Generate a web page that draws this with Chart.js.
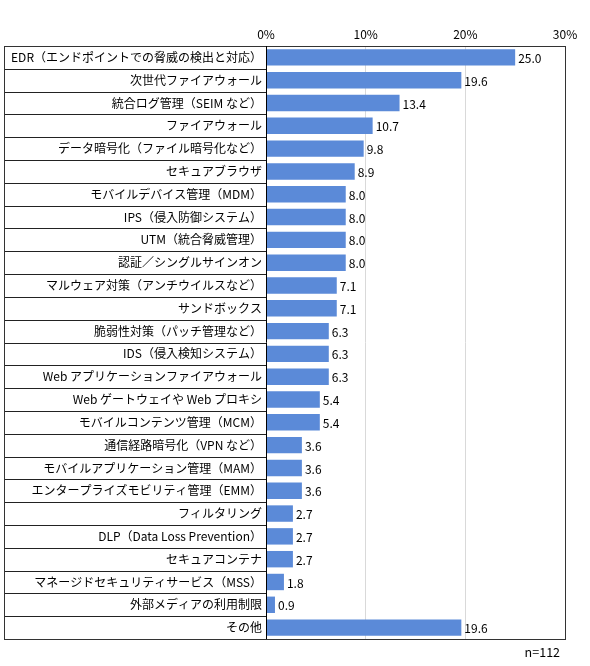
<!DOCTYPE html>
<html>
<head>
<meta charset="utf-8">
<script src="https://cdn.jsdelivr.net/npm/chart.js@4"></script>
<style>
  html, body { margin: 0; padding: 0; background: #fff; }
  #wrap { width: 590px; height: 666px; }
</style>
</head>
<body>
<div id="wrap"><canvas id="canvas" width="590" height="666"></canvas></div>
<script>
// 項目名
const categories = [
  "EDR（エンドポイントでの脅威の検出と対応）",
  "次世代ファイアウォール",
  "統合ログ管理（SEIM など）",
  "ファイアウォール",
  "データ暗号化（ファイル暗号化など）",
  "セキュアブラウザ",
  "モバイルデバイス管理（MDM）",
  "IPS（侵入防御システム）",
  "UTM（統合脅威管理）",
  "認証／シングルサインオン",
  "マルウェア対策（アンチウイルスなど）",
  "サンドボックス",
  "脆弱性対策（パッチ管理など）",
  "IDS（侵入検知システム）",
  "Web アプリケーションファイアウォール",
  "Web ゲートウェイや Web プロキシ",
  "モバイルコンテンツ管理（MCM）",
  "通信経路暗号化（VPN など）",
  "モバイルアプリケーション管理（MAM）",
  "エンタープライズモビリティ管理（EMM）",
  "フィルタリング",
  "DLP（Data Loss Prevention）",
  "セキュアコンテナ",
  "マネージドセキュリティサービス（MSS）",
  "外部メディアの利用制限",
  "その他"
];
// 割合 (%)
const values = [25.0, 19.6, 13.4, 10.7, 9.8, 8.9, 8.0, 8.0, 8.0, 8.0, 7.1, 7.1, 6.3, 6.3, 6.3, 5.4, 5.4, 3.6, 3.6, 3.6, 2.7, 2.7, 2.7, 1.8, 0.9, 19.6];
const xTicks = [0, 10, 20, 30];
const note = "n=112";

const FONT = '"Noto Sans CJK JP", "Noto Sans", sans-serif';

// 表の枠線と数値ラベル
const tablePlugin = {
  id: 'tablePlugin',
  afterDatasetsDraw(chart) {
    const ctx = chart.ctx;
    const meta = chart.getDatasetMeta(0);
    ctx.save();
    ctx.font = '12px ' + FONT;
    ctx.fillStyle = '#000';
    ctx.textBaseline = 'middle';
    ctx.textAlign = 'left';
    meta.data.forEach((bar, i) => {
      ctx.fillText(values[i].toFixed(1), bar.x + 3, bar.y + 1);
    });
    ctx.restore();
  },
  afterDraw(chart) {
    const ctx = chart.ctx;
    const a = chart.chartArea;
    const left = 4;
    const rowH = (a.bottom - a.top) / categories.length;
    ctx.save();
    // 行の区切り線 (ラベル列のみ)
    ctx.strokeStyle = '#222';
    ctx.lineWidth = 1;
    for (let i = 1; i < categories.length; i++) {
      const y = Math.round(a.top + i * rowH) + 0.5;
      ctx.beginPath();
      ctx.moveTo(left, y);
      ctx.lineTo(a.left, y);
      ctx.stroke();
    }
    // 外枠
    ctx.strokeStyle = '#333';
    ctx.strokeRect(left + 0.5, Math.round(a.top) + 0.5, Math.round(a.right) - left, Math.round(a.bottom - a.top));
    // 0% の軸線
    ctx.strokeStyle = '#000';
    ctx.beginPath();
    ctx.moveTo(Math.round(a.left) + 0.5, a.top);
    ctx.lineTo(Math.round(a.left) + 0.5, a.bottom);
    ctx.stroke();
    // n=
    ctx.fillStyle = '#000';
    ctx.font = '12.5px ' + FONT;
    ctx.textAlign = 'right';
    ctx.textBaseline = 'middle';
    ctx.fillText(note, a.right - 5, a.bottom + 13);
    ctx.restore();
  }
};

window.onload = function () {
  const ctx = document.getElementById('canvas').getContext('2d');
  new Chart(ctx, {
    type: 'bar',
    data: {
      labels: categories,
      datasets: [{
        data: values,
        backgroundColor: '#5b8ad8',
        barPercentage: 0.72,
        categoryPercentage: 1.0
      }]
    },
    options: {
      indexAxis: 'y',
      responsive: false,
      animation: false,
      layout: { padding: { left: 4, right: 25, top: 0, bottom: 27 } },
      plugins: {
        legend: { display: false },
        tooltip: { enabled: false }
      },
      scales: {
        x: {
          position: 'top',
          min: 0,
          max: 30,
          afterBuildTicks(scale) {
            scale.ticks = xTicks.map(v => ({ value: v }));
          },
          afterFit(scale) { scale.height = 46; },
          grid: {
            drawTicks: false,
            color: c => (c.tick && (c.tick.value === 0 || c.tick.value === 30)) ? 'rgba(0,0,0,0)' : '#d9d9d9'
          },
          border: { display: false },
          ticks: {
            padding: 4,
            color: '#000',
            font: { family: FONT, size: 12 },
            callback: v => v + '%'
          }
        },
        y: {
          afterFit(scale) { scale.width = 262; },
          grid: { display: false, drawTicks: false },
          border: { display: false },
          ticks: {
            padding: 4,
            color: '#000',
            autoSkip: false,
            font: { family: FONT, size: 12 }
          }
        }
      }
    },
    plugins: [tablePlugin]
  });
};
</script>
</body>
</html>
